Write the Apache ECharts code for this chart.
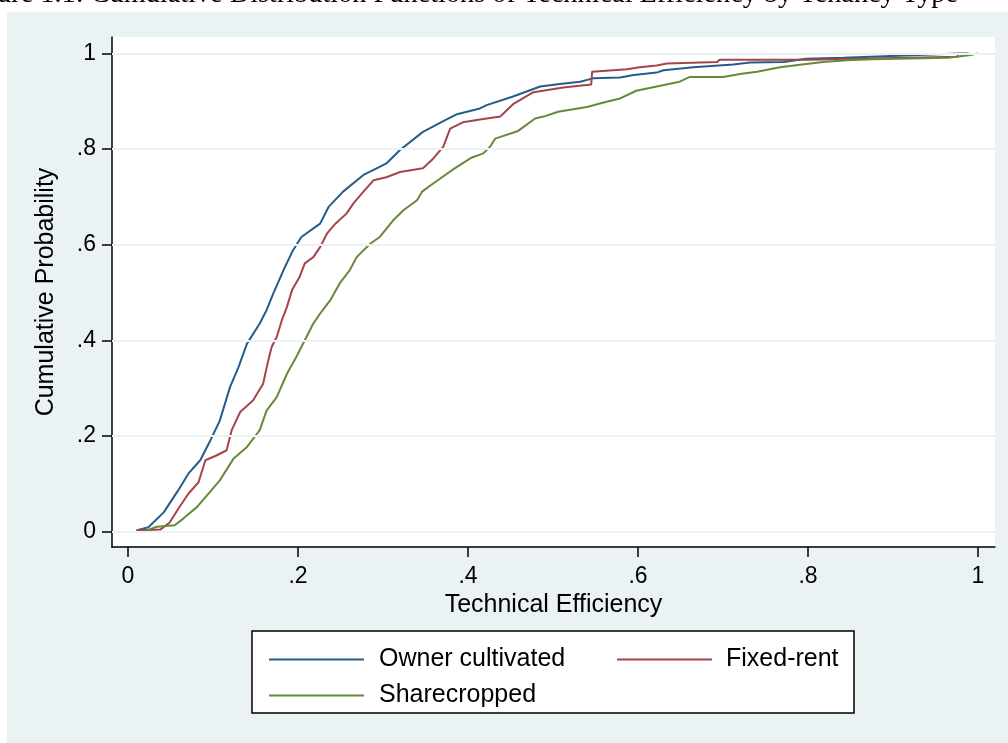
<!DOCTYPE html>
<html><head><meta charset="utf-8">
<script src="https://cdn.jsdelivr.net/npm/echarts@6/dist/echarts.min.js"></script>
<style>html,body{margin:0;padding:0;background:#fff}#c{width:1008px;height:743px}</style>
</head><body><div id="c"></div><script>
const titleText = 'Figure 1.1: Cumulative Distribution Functions of Technical Efficiency by Tenancy Type';
const seriesNames = ['Owner cultivated', 'Fixed-rent', 'Sharecropped'];
const xTickValues = [0, 0.2, 0.4, 0.6, 0.8, 1];
const xTickLabels = ['0', '.2', '.4', '.6', '.8', '1'];
const yTickValues = [0, 0.2, 0.4, 0.6, 0.8, 1];
const yTickLabels = ['0', '.2', '.4', '.6', '.8', '1'];
const xAxisTitle = 'Technical Efficiency';
const yAxisTitle = 'Cumulative Probability';

const ownerCultivated = [[0.010,0.002],[0.024,0.009],[0.042,0.040],[0.059,0.086],[0.071,0.121],[0.085,0.149],[0.097,0.191],[0.108,0.232],[0.120,0.302],[0.130,0.344],[0.140,0.393],[0.155,0.435],[0.163,0.463],[0.171,0.498],[0.183,0.547],[0.194,0.588],[0.204,0.616],[0.226,0.644],[0.236,0.679],[0.253,0.711],[0.277,0.746],[0.296,0.763],[0.304,0.770],[0.320,0.798],[0.347,0.836],[0.367,0.855],[0.387,0.873],[0.414,0.885],[0.422,0.892],[0.453,0.910],[0.485,0.931],[0.508,0.936],[0.532,0.941],[0.547,0.948],[0.579,0.950],[0.595,0.955],[0.622,0.960],[0.630,0.965],[0.665,0.971],[0.712,0.977],[0.732,0.981],[0.771,0.982],[0.798,0.989],[0.842,0.991],[0.930,0.997],[0.977,1.0],[0.989,1.0]];
const fixedRent = [[0.010,0.002],[0.038,0.004],[0.049,0.019],[0.059,0.047],[0.071,0.079],[0.083,0.103],[0.091,0.149],[0.104,0.159],[0.116,0.170],[0.122,0.212],[0.132,0.250],[0.147,0.274],[0.159,0.309],[0.165,0.358],[0.169,0.386],[0.175,0.407],[0.181,0.442],[0.187,0.470],[0.193,0.505],[0.202,0.533],[0.208,0.561],[0.218,0.574],[0.226,0.595],[0.234,0.623],[0.244,0.644],[0.257,0.665],[0.265,0.686],[0.277,0.711],[0.289,0.735],[0.304,0.741],[0.320,0.752],[0.347,0.760],[0.359,0.780],[0.371,0.805],[0.379,0.843],[0.394,0.856],[0.414,0.862],[0.438,0.868],[0.453,0.894],[0.477,0.919],[0.512,0.929],[0.545,0.935],[0.546,0.962],[0.587,0.967],[0.602,0.971],[0.622,0.975],[0.634,0.979],[0.693,0.982],[0.696,0.987],[0.802,0.987],[0.803,0.990],[0.976,0.993],[0.977,1.0]];
const sharecropped = [[0.022,0.002],[0.034,0.010],[0.055,0.013],[0.065,0.027],[0.081,0.051],[0.096,0.082],[0.108,0.107],[0.124,0.152],[0.140,0.177],[0.155,0.212],[0.163,0.253],[0.175,0.281],[0.187,0.330],[0.198,0.365],[0.208,0.400],[0.218,0.435],[0.226,0.456],[0.238,0.484],[0.249,0.519],[0.261,0.547],[0.269,0.574],[0.285,0.602],[0.296,0.616],[0.312,0.651],[0.324,0.672],[0.340,0.693],[0.346,0.711],[0.359,0.728],[0.383,0.758],[0.404,0.782],[0.418,0.791],[0.426,0.805],[0.432,0.822],[0.459,0.838],[0.479,0.864],[0.489,0.868],[0.506,0.878],[0.540,0.888],[0.563,0.899],[0.579,0.906],[0.598,0.922],[0.622,0.931],[0.649,0.941],[0.661,0.951],[0.700,0.951],[0.720,0.957],[0.740,0.962],[0.767,0.971],[0.793,0.977],[0.818,0.982],[0.845,0.986],[0.876,0.988],[0.965,0.991],[0.991,0.997],[1.0,1.0]];

const colors = ['#245d8a', '#a5444a', '#668a3a'];
const panel = '#EAF2F3';
const sans = 'Liberation Sans';

function lbl(vals, labels) {
  return v => { const i = vals.findIndex(t => Math.abs(t - v) < 1e-9); return i >= 0 ? labels[i] : ''; };
}

const chart = echarts.init(document.getElementById('c'), null, {renderer: 'canvas'});
chart.setOption({
  animation: false,
  backgroundColor: '#ffffff',
  color: colors,
  graphic: [
    {type: 'rect', z: -100, silent: true, shape: {x: 7, y: 12, width: 1001, height: 731}, style: {fill: panel}},
    {type: 'rect', z: 3, silent: true, shape: {x: 252, y: 631, width: 602, height: 82}, style: {fill: '#fff', stroke: '#000', lineWidth: 1.5}},
    {type: 'text', z: 100, silent: true, x: 958, y: -5, style: {text: titleText, fill: '#000', font: '28.3px "Liberation Serif"', align: 'right', verticalAlign: 'middle'}}
  ],
  grid: {left: 112, top: 37, width: 883, height: 510, show: true, backgroundColor: '#fff', borderWidth: 0},
  xAxis: {
    type: 'value', min: -0.01882, max: 1.02,
    name: xAxisTitle, nameLocation: 'middle', nameGap: 43,
    nameTextStyle: {fontSize: 25, fontFamily: sans, color: '#000'},
    axisLine: {show: true, onZero: false, lineStyle: {color: '#000', width: 1.5}},
    axisTick: {show: true, customValues: xTickValues, length: 10, lineStyle: {color: '#000', width: 1.5}},
    axisLabel: {customValues: xTickValues, formatter: lbl(xTickValues, xTickLabels), margin: 18, fontSize: 23, fontFamily: sans, color: '#000'},
    splitLine: {show: false}
  },
  yAxis: {
    type: 'value', min: -0.0324, max: 1.0345,
    name: yAxisTitle, nameLocation: 'middle', nameGap: 53,
    nameTextStyle: {fontSize: 25, fontFamily: sans, color: '#000'},
    axisLine: {show: true, onZero: false, lineStyle: {color: '#000', width: 1.5}},
    axisTick: {show: true, customValues: yTickValues, length: 10, lineStyle: {color: '#000', width: 1.5}},
    axisLabel: {customValues: yTickValues, formatter: lbl(yTickValues, yTickLabels), margin: 16, fontSize: 23, fontFamily: sans, color: '#000'},
    splitLine: {show: false}
  },
  legend: [
    {data: [seriesNames[0], seriesNames[2]], orient: 'vertical', left: 264, top: 642, itemGap: 11, icon: 'rect', itemWidth: 95, itemHeight: 2,
     textStyle: {fontSize: 25, lineHeight: 25, fontFamily: sans, color: '#000', padding: [0, 0, 0, 10]}, selectedMode: false},
    {data: [seriesNames[1]], orient: 'vertical', left: 612, top: 642, icon: 'rect', itemWidth: 95, itemHeight: 2,
     textStyle: {fontSize: 25, lineHeight: 25, fontFamily: sans, color: '#000', padding: [0, 0, 0, 9]}, selectedMode: false}
  ],
  series: [
    {type: 'line', name: '_grid', data: [], z: 1, silent: true,
     markLine: {silent: true, symbol: ['none', 'none'], label: {show: false}, lineStyle: {color: panel, width: 2, type: 'solid'},
       emphasis: {disabled: true}, data: yTickValues.map(v => ({yAxis: v}))}},
    {type: 'line', name: seriesNames[0], data: ownerCultivated, showSymbol: false, symbol: 'none', z: 3, lineStyle: {width: 2, color: colors[0]}, itemStyle: {color: colors[0]}},
    {type: 'line', name: seriesNames[1], data: fixedRent, showSymbol: false, symbol: 'none', z: 3, lineStyle: {width: 2, color: colors[1]}, itemStyle: {color: colors[1]}},
    {type: 'line', name: seriesNames[2], data: sharecropped, showSymbol: false, symbol: 'none', z: 3, lineStyle: {width: 2, color: colors[2]}, itemStyle: {color: colors[2]}}
  ]
});
</script></body></html>
